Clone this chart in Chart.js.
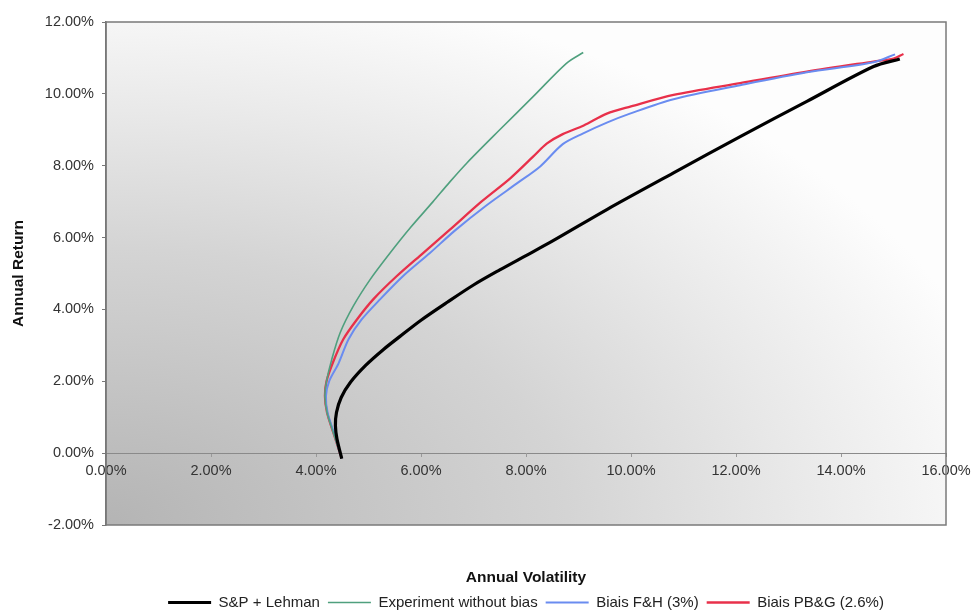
<!DOCTYPE html>
<html>
<head>
<meta charset="utf-8">
<script src="https://cdn.jsdelivr.net/npm/chart.js@4.4.1/dist/chart.umd.min.js"></script>
<style>
  html, body { margin: 0; padding: 0; background: #fff; }
  #wrap { width: 977px; height: 614px; }
</style>
</head>
<body>
<div id="wrap"><canvas id="c" width="977" height="614"></canvas></div>
<script>
// series labels
const seriesNames = ['S&P + Lehman', 'Experiment without bias', 'Biais F&H (3%)', 'Biais PB&G (2.6%)'];

// [volatility %, return %]
const spLehman = [
  [4.49,-0.15],[4.40,0.39],[4.37,0.76],[4.39,1.13],[4.48,1.55],[4.66,1.98],[4.95,2.45],
  [5.28,2.88],[5.60,3.25],[6.00,3.70],[6.50,4.20],[7.00,4.68],[7.50,5.10],[8.00,5.50],
  [8.50,5.90],[9.54,6.78],[10.81,7.80],[12.08,8.81],[13.35,9.79],[14.62,10.76],[15.12,10.97]
];
const noBias = [
  [4.49,-0.15],[4.33,0.57],[4.21,1.13],[4.17,1.59],[4.20,2.00],[4.30,2.61],[4.46,3.35],
  [4.71,4.09],[5.03,4.83],[5.41,5.57],[5.80,6.28],[6.23,7.00],[6.55,7.55],[6.87,8.07],
  [7.50,9.00],[8.14,9.93],[8.77,10.85],[9.09,11.15]
];
const biasFH = [
  [4.49,-0.15],[4.34,0.57],[4.22,1.13],[4.19,1.59],[4.25,2.00],[4.43,2.50],[4.62,3.17],
  [4.87,3.72],[5.22,4.28],[5.66,4.93],[6.17,5.57],[6.65,6.20],[7.25,6.90],[7.82,7.50],
  [8.27,7.98],[8.70,8.60],[9.09,8.90],[9.54,9.20],[9.98,9.45],[10.81,9.85],[12.08,10.24],
  [13.35,10.60],[14.62,10.88],[15.03,11.10]
];
const biasPBG = [
  [4.49,-0.15],[4.33,0.57],[4.21,1.13],[4.17,1.59],[4.20,2.00],[4.33,2.55],[4.52,3.17],
  [4.78,3.72],[5.09,4.28],[5.54,4.93],[6.04,5.57],[6.55,6.22],[7.15,7.00],[7.70,7.65],
  [8.14,8.26],[8.40,8.62],[8.70,8.88],[9.10,9.12],[9.54,9.45],[10.00,9.65],[10.81,9.97],
  [12.08,10.30],[13.35,10.62],[14.62,10.90],[15.00,10.98],[15.19,11.11]
];

const xTicks = [0, 2, 4, 6, 8, 10, 12, 14, 16];
const yTicks = [-2, 0, 2, 4, 6, 8, 10, 12];

const pts = arr => arr.map(p => ({x: p[0], y: p[1]}));
const pct = v => v.toFixed(2) + '%';

// plot area background + frame
const frame = {
  id: 'frame',
  beforeDraw(chart) {
    const {ctx, chartArea: a} = chart;
    ctx.save();
    ctx.translate(a.left, a.bottom);
    ctx.scale(a.width, a.height);
    const g = ctx.createRadialGradient(0, 0, 0, 0, 0, 1.1);
    g.addColorStop(0, '#b4b4b4');
    g.addColorStop(0.5, '#d4d4d4');
    g.addColorStop(0.75, '#e9e9e9');
    g.addColorStop(1, '#fdfdfd');
    ctx.fillStyle = g;
    ctx.fillRect(0, -1, 1, 1);
    ctx.restore();
  },
  afterDraw(chart) {
    const {ctx, chartArea: a} = chart;
    ctx.save();
    ctx.strokeStyle = '#7a7a7a';
    ctx.lineWidth = 1.5;
    ctx.strokeRect(a.left, a.top, a.width, a.height);
    ctx.restore();
  }
};

Chart.defaults.font.family = '"Liberation Sans", Arial, sans-serif';
Chart.defaults.font.size = 14;
Chart.defaults.color = '#333';

new Chart(document.getElementById('c'), {
  type: 'line',
  data: {
    datasets: [
      {label: seriesNames[0], data: pts(spLehman), borderColor: '#000000', backgroundColor: '#000000', borderWidth: 3.2},
      {label: seriesNames[1], data: pts(noBias), borderColor: '#4fa07e', backgroundColor: '#4fa07e', borderWidth: 1.6},
      {label: seriesNames[2], data: pts(biasFH), borderColor: '#6a8cf0', backgroundColor: '#6a8cf0', borderWidth: 2},
      {label: seriesNames[3], data: pts(biasPBG), borderColor: '#e8304a', backgroundColor: '#e8304a', borderWidth: 2.3}
    ]
  },
  options: {
    responsive: false,
    animation: false,
    elements: {
      point: {radius: 0},
      line: {tension: 0.3}
    },
    layout: {padding: {top: 22, right: 31, left: 0, bottom: -6}},
    plugins: {
      tooltip: {enabled: false},
      legend: {
        position: 'bottom',
        fullSize: false,
        labels: {
          usePointStyle: true,
          pointStyle: 'line',
          pointStyleWidth: 43,
          boxHeight: 3,
          padding: 8,
          color: '#222',
          font: {size: 15}
        }
      }
    },
    scales: {
      x: {
        type: 'linear',
        position: 'bottom',
        min: 0, max: 16,
        ticks: {display: false},
        grid: {display: false},
        border: {display: false},
        title: {display: true, text: 'Annual Volatility', color: '#111', font: {weight: 'bold', size: 15.5}, padding: {top: 0, bottom: 0}},
        afterFit(s) { s.height = 62; }
      },
      x2: {
        type: 'linear',
        position: {y: 0},
        min: 0, max: 16,
        afterBuildTicks(s) { s.ticks = xTicks.map(v => ({value: v})); },
        ticks: {callback: v => pct(v), color: '#333', padding: 6, maxRotation: 0, font: {size: 14.5}},
        grid: {drawOnChartArea: false, tickLength: 3, color: '#999'},
        border: {display: true, color: '#8a8a8a', width: 1}
      },
      y: {
        type: 'linear',
        min: -2, max: 12,
        afterBuildTicks(s) { s.ticks = yTicks.map(v => ({value: v})); },
        ticks: {callback: v => pct(v), color: '#333', padding: 8, font: {size: 14.5}},
        grid: {drawOnChartArea: false, tickLength: 4, color: '#777'},
        border: {display: true, color: '#707070', width: 1.5},
        title: {display: true, text: 'Annual Return', color: '#111', font: {weight: 'bold', size: 15.5}, padding: {top: 9, bottom: 0}},
        afterFit(s) { s.width = 106; }
      }
    }
  },
  plugins: [frame]
});
</script>
</body>
</html>
